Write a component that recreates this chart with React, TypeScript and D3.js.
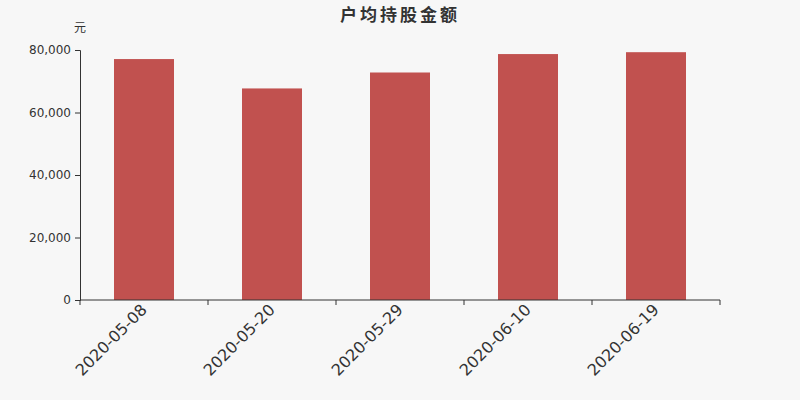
import React, { useEffect, useRef } from 'react';
import * as d3 from 'd3';

const dates = ['2020-05-08', '2020-05-20', '2020-05-29', '2020-06-10', '2020-06-19'];
const amounts = [77100, 67700, 72800, 78700, 79300];
const yTicks = [0, 20000, 40000, 60000, 80000];

const App: React.FC = () => {
  const svgRef = useRef<SVGSVGElement>(null);

  useEffect(() => {
    if (!svgRef.current) return;
    const svg = d3.select(svgRef.current);
    svg.selectAll('*').remove();

    const width = 800;
    const height = 400;
    const margin = { top: 50, right: 80, bottom: 100, left: 80 };
    const font = '"DejaVu Sans", "Noto Sans CJK SC", sans-serif';

    svg.append('rect').attr('width', width).attr('height', height).attr('fill', '#f7f7f7');

    const x = d3.scaleBand<string>()
      .domain(dates)
      .range([margin.left, width - margin.right])
      .paddingInner(0.53125)
      .paddingOuter(0.265625);

    const y = d3.scaleLinear()
      .domain([0, 80000])
      .range([height - margin.bottom, margin.top]);

    // title
    svg.append('text')
      .attr('x', width / 2)
      .attr('y', 21)
      .attr('text-anchor', 'middle')
      .style('font-family', font)
      .style('font-size', '17px')
      .style('letter-spacing', '3px')
      .style('font-weight', 'bold')
      .style('fill', '#333')
      .text('户均持股金额');

    // unit
    svg.append('text')
      .attr('x', margin.left)
      .attr('y', 32)
      .attr('text-anchor', 'middle')
      .style('font-family', font)
      .style('font-size', '12px')
      .style('fill', '#333')
      .text('元');

    // bars
    svg.append('g')
      .selectAll('rect')
      .data(amounts)
      .enter()
      .append('rect')
      .attr('x', (_, i) => x(dates[i])!)
      .attr('y', d => y(d))
      .attr('width', x.bandwidth())
      .attr('height', d => y(0) - y(d))
      .attr('fill', '#c1514f');

    // y axis
    const yAxis = svg.append('g')
      .attr('transform', `translate(${margin.left},0)`)
      .call(d3.axisLeft(y).tickValues(yTicks).tickSize(5).tickPadding(4).tickFormat(d3.format(',')));
    yAxis.selectAll('text').style('font-family', font).style('font-size', '12px').style('fill', '#333');
    yAxis.selectAll('line,path').attr('stroke', '#333');

    // x axis, ticks on band boundaries
    const step = x.step();
    const xg = svg.append('g').attr('transform', `translate(0,${y(0)})`);
    xg.append('line')
      .attr('x1', margin.left).attr('x2', width - margin.right)
      .attr('stroke', '#333');
    xg.selectAll('line.tick')
      .data(d3.range(dates.length + 1))
      .enter()
      .append('line')
      .attr('class', 'tick')
      .attr('x1', i => margin.left + i * step)
      .attr('x2', i => margin.left + i * step)
      .attr('y1', 0).attr('y2', 5)
      .attr('stroke', '#333');
    xg.selectAll('text')
      .data(dates)
      .enter()
      .append('text')
      .attr('transform', d => `translate(${x(d)! + x.bandwidth() / 2 - 4},3) rotate(-45)`)
      .attr('text-anchor', 'end')
      .attr('dy', '0.7em')
      .style('font-family', font)
      .style('font-size', '16px')
      .style('fill', '#333')
      .text(d => d);
  }, []);

  return (
    <div>
      <style>{'body{margin:0;background:#f7f7f7}'}</style>
      <svg ref={svgRef} width={800} height={400} style={{ display: 'block' }} />
    </div>
  );
};

export default App;
